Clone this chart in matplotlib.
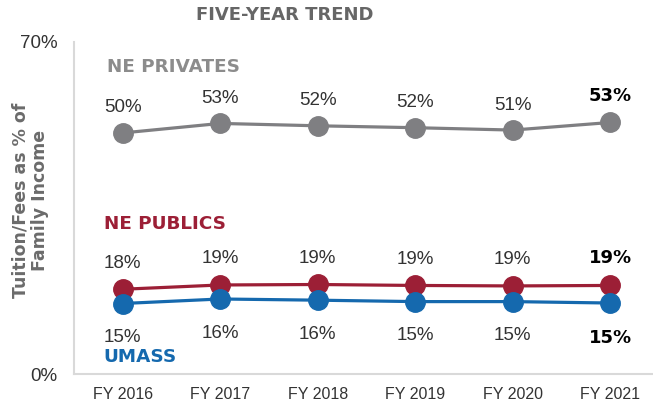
import matplotlib
matplotlib.use("Agg")
import matplotlib.pyplot as plt

plt.rcParams['font.family'] = ['Liberation Sans', 'DejaVu Sans']

years = ["FY 2016", "FY 2017", "FY 2018", "FY 2019", "FY 2020", "FY 2021"]
privates = [50.8, 52.8, 52.3, 51.9, 51.4, 53.0]
publics = [17.9, 18.8, 18.9, 18.7, 18.6, 18.7]
umass = [14.9, 15.85, 15.6, 15.3, 15.3, 15.0]
privates_lbl = ["50%", "53%", "52%", "52%", "51%", "53%"]
publics_lbl = ["18%", "19%", "19%", "19%", "19%", "19%"]
umass_lbl = ["15%", "16%", "16%", "15%", "15%", "15%"]

c_priv = "#7f7f82"
c_pub = "#9c1f36"
c_uma = "#1569ae"
txt = "#333333"
heavy = ['DejaVu Sans']

fig = plt.figure(figsize=(6.53, 4.07), dpi=100)
ax = fig.add_axes([74/653, 1-374.3/407, (659-74)/653, (374.3-41.7)/407])

x = list(range(len(years)))
for vals, col in [(privates, c_priv), (publics, c_pub), (umass, c_uma)]:
    ax.plot(x, vals, color=col, lw=2.3, marker='o', ms=14, zorder=3)

def label(vals, lbls, dy, dy_last):
    for i, (v, l) in enumerate(zip(vals, lbls)):
        last = i == len(vals) - 1
        if last:
            ax.annotate(l, (i, v), xytext=(0, dy_last), textcoords='offset points',
                        ha='center', va='center', fontsize=13, color='black',
                        fontweight='bold', family=heavy)
        else:
            ax.annotate(l, (i, v), xytext=(0, dy), textcoords='offset points',
                        ha='center', va='center', fontsize=13.5, color=txt)

label(privates, privates_lbl, 18, 19)
label(publics, publics_lbl, 18.8, 20)
label(umass, umass_lbl, -24.5, -25.5)

ax.set_xlim(-0.5, 5.5)
ax.set_ylim(0, 70)
ax.set_xticks(x)
ax.set_xticklabels(years, fontsize=11.5, color=txt)
ax.set_yticks([0, 70])
ax.set_yticklabels(["0%", "70%"], fontsize=13.5, color=txt)
ax.tick_params(axis='both', length=0)
ax.tick_params(axis='x', pad=9)
ax.tick_params(axis='y', pad=12)
for s in ['top', 'right']:
    ax.spines[s].set_visible(False)
for s in ['left', 'bottom']:
    ax.spines[s].set_color("#d9d9d9")
    ax.spines[s].set_linewidth(1.5)

ax.text((107-74)/585, 1-(67-41.7)/332.6, "NE PRIVATES", transform=ax.transAxes,
        fontsize=13.2, fontweight='bold', color="#8c8c8c", ha='left', va='center',
        family=heavy)
ax.text((104-74)/585, 1-(224-41.7)/332.6, "NE PUBLICS", transform=ax.transAxes,
        fontsize=13.2, fontweight='bold', color=c_pub, ha='left', va='center',
        family=heavy)
ax.text((103-74)/585, 1-(357-41.7)/332.6, "UMASS", transform=ax.transAxes,
        fontsize=13.2, fontweight='bold', color=c_uma, ha='left', va='center',
        family=heavy)

fig.text(285/653, 1-15/407, "FIVE-YEAR TREND", fontsize=13, fontweight='bold',
         color="#666666", ha='center', va='center', family=heavy)
fig.text(30/653, 1-200/407, "Tuition/Fees as % of\nFamily Income", rotation=90,
         fontsize=12.5, fontweight='bold', color="#6b6b6b", ha='center', va='center',
         linespacing=1.1, family=heavy)

fig.savefig("out.png", dpi=100)
